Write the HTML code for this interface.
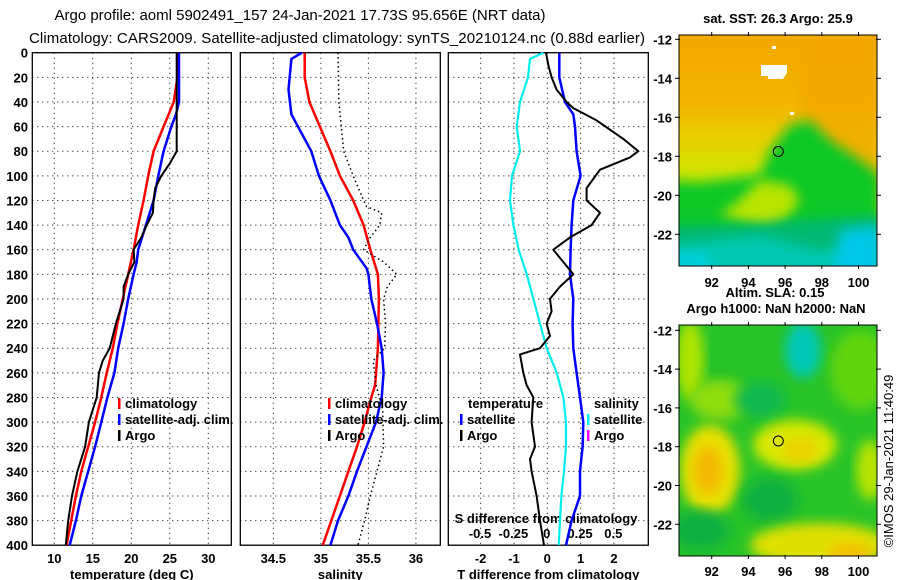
<!DOCTYPE html>
<html><head><meta charset="utf-8"><style>
html,body{margin:0;padding:0;background:#fff;}
svg{display:block;font-family:"Liberation Sans",sans-serif;}
.t{font-weight:bold;font-size:13px;fill:#000;}
</style></head><body>
<svg id="chart" width="900" height="580" viewBox="0 0 900 580" xmlns="http://www.w3.org/2000/svg">
<defs>
<filter id="bl" x="-20%" y="-20%" width="140%" height="140%"><feGaussianBlur stdDeviation="6"/></filter>
<linearGradient id="sstg" x1="0" y1="0" x2="0" y2="1">
<stop offset="0" stop-color="#f2a800"/><stop offset="0.3" stop-color="#f4b400"/><stop offset="0.45" stop-color="#e8d000"/><stop offset="0.6" stop-color="#d0e400"/><stop offset="1" stop-color="#c0e400"/>
</linearGradient>
<clipPath id="c1"><rect x="679" y="35" width="198" height="231"/></clipPath>
<clipPath id="c2"><rect x="679" y="325" width="198" height="231"/></clipPath>
</defs>
<text x="300" y="20" font-size="15" text-anchor="middle" textLength="491">Argo profile: aoml 5902491_157 24-Jan-2021 17.73S 95.656E (NRT data)</text>
<text x="337" y="43" font-size="15" text-anchor="middle" textLength="616">Climatology: CARS2009. Satellite-adjusted climatology: synTS_20210124.nc (0.88d earlier)</text>

<!-- Top map SST -->
<g clip-path="url(#c1)">
<rect x="679" y="35" width="198" height="231" fill="url(#sstg)"/>
<polygon points="800,30 880,30 880,200 840,180 800,110" fill="#f2a800" opacity="0.8" filter="url(#bl)"/>
<polygon points="790,125 810,120 830,140 860,160 880,175 880,300 660,300 660,180 700,182 760,175 770,150" fill="#10c828" filter="url(#bl)"/>
<polygon points="720,215 740,200 760,180 790,185 800,200 790,215 770,230" fill="#b8e400" filter="url(#bl)"/>
<polygon points="660,225 740,225 800,220 880,215 880,300 660,300" fill="#00b870" filter="url(#bl)"/>
<polygon points="660,245 760,235 820,250 880,240 880,300 660,300" fill="#00c8b0" filter="url(#bl)"/>
<polygon points="840,230 880,225 880,300 830,300" fill="#00c8e8" filter="url(#bl)"/>
<polygon points="660,255 700,252 720,270 660,270" fill="#00d0e0" filter="url(#bl)"/>
<polygon points="761,65 787,65 787,73 783,79 768,79 768,76 761,76" fill="#fff"/>
<rect x="772" y="46" width="4" height="3" fill="#fff"/>
<rect x="790" y="112" width="4" height="3" fill="#fff"/>
</g>
<rect x="679" y="35" width="198" height="231" fill="none" stroke="#000" stroke-width="1"/>
<circle cx="778.3" cy="151.5" r="5" fill="none" stroke="#000" stroke-width="1"/>
<text x="778" y="23" class="t" text-anchor="middle">sat. SST: 26.3 Argo: 25.9</text>

<!-- Bottom map SLA -->
<g clip-path="url(#c2)">
<rect x="679" y="325" width="198" height="231" fill="#28c428"/>
<ellipse cx="690" cy="360" rx="14" ry="40" fill="#b0e400" filter="url(#bl)"/>
<ellipse cx="720" cy="400" rx="30" ry="20" fill="#90dc10" filter="url(#bl)"/>
<ellipse cx="860" cy="370" rx="30" ry="40" fill="#60d410" filter="url(#bl)"/>
<ellipse cx="803" cy="350" rx="18" ry="28" fill="#00c8b8" filter="url(#bl)"/>
<ellipse cx="760" cy="400" rx="25" ry="18" fill="#10b850" filter="url(#bl)"/>
<ellipse cx="710" cy="470" rx="30" ry="45" fill="#e8e000" filter="url(#bl)"/>
<ellipse cx="708" cy="470" rx="14" ry="24" fill="#f4b800" filter="url(#bl)"/>
<ellipse cx="795" cy="445" rx="42" ry="25" fill="#d8e800" filter="url(#bl)"/>
<ellipse cx="800" cy="450" rx="18" ry="12" fill="#ecd000" filter="url(#bl)"/>
<ellipse cx="770" cy="500" rx="28" ry="22" fill="#10b040" filter="url(#bl)"/>
<ellipse cx="700" cy="530" rx="30" ry="20" fill="#10b040" filter="url(#bl)"/>
<ellipse cx="820" cy="545" rx="70" ry="22" fill="#e0e000" filter="url(#bl)"/>
<ellipse cx="850" cy="555" rx="22" ry="12" fill="#f4c000" filter="url(#bl)"/>
<ellipse cx="870" cy="470" rx="14" ry="30" fill="#b8e400" filter="url(#bl)"/>
</g>
<rect x="679" y="325" width="198" height="231" fill="none" stroke="#000" stroke-width="1"/>
<circle cx="778.3" cy="441" r="5" fill="none" stroke="#000" stroke-width="1"/>
<text x="775" y="297" class="t" text-anchor="middle">Altim. SLA: 0.15</text>
<text x="776" y="313" class="t" text-anchor="middle">Argo h1000: NaN h2000: NaN</text>
<text transform="translate(893,461) rotate(-90)" font-size="13" text-anchor="middle">©IMOS 29-Jan-2021 11:40:49</text>

<g id="plots"></g>
</svg>
<script>
// ===== data =====
var depthTicks = [0,20,40,60,80,100,120,140,160,180,200,220,240,260,280,300,320,340,360,380,400];
var tempTicks = [10,15,20,25,30];
var salTicks = [34.5,35,35.5,36];
var tdiffTicks = [-2,-1,0,1,2];
var sdiffTicks = [-0.5,-0.25,0,0.25,0.5];
var sdiffTickLabels = ["-0.5","-0.25","0","0.25","0.5"];
var lonTicks = [92,94,96,98,100];
var latTicks = [-12,-14,-16,-18,-20,-22];

var climTDepth = [0,20,40,60,80,100,120,140,160,180,200,220,240,260,280,300,320,340,360,380,400];
var climTemp = [26.1,26.0,25.5,24.2,22.9,22.2,21.6,20.9,20.3,19.6,18.9,18.2,17.6,16.8,16.1,15.3,14.4,13.5,12.8,12.2,11.6];
var satTDepth = [0,20,40,50,60,80,100,120,140,160,170,180,200,220,240,260,280,300,320,340,360,380,400];
var satTemp = [26.2,26.2,26.2,25.8,25.2,24.2,23.5,22.9,21.9,20.9,20.7,20.3,19.6,19.0,18.3,17.8,16.9,16.1,15.3,14.4,13.5,12.8,12.0];
var argoTDepth = [0,80,90,100,110,120,130,140,150,160,170,180,190,200,220,240,250,260,280,300,320,340,360,380,400];
var argoTemp = [25.9,25.9,25.0,23.9,23.1,22.9,22.8,22.0,21.3,20.3,20.4,19.6,19.0,19.0,18.0,17.2,16.3,15.8,15.5,14.5,14.0,13.0,12.3,11.8,11.5];

var climSDepth = [0,20,40,60,80,100,120,140,160,180,200,240,250,270,280,300,320,340,360,380,400];
var climSal = [34.83,34.83,34.88,34.99,35.10,35.20,35.34,35.45,35.52,35.60,35.61,35.60,35.59,35.57,35.53,35.46,35.38,35.29,35.20,35.11,35.02];
var satSDepth = [0,5,30,50,60,80,100,120,140,150,160,175,180,200,220,240,260,280,300,320,340,360,380,400];
var satSal = [34.80,34.69,34.66,34.69,34.76,34.90,34.98,35.10,35.20,35.29,35.34,35.48,35.50,35.53,35.59,35.64,35.66,35.64,35.58,35.48,35.38,35.29,35.18,35.10];
var argoSDepth = [0,40,80,100,120,125,130,140,150,160,170,180,190,200,220,240,250,270,290,320,340,360,380,400];
var argoSal = [35.18,35.19,35.24,35.34,35.45,35.48,35.64,35.62,35.52,35.45,35.66,35.80,35.70,35.66,35.68,35.67,35.55,35.58,35.65,35.66,35.59,35.52,35.46,35.39];

var satDTDepth = [0,20,40,50,60,80,100,120,140,160,180,200,220,240,260,280,300,320,340,360,380,400];
var satDT = [0.36,0.36,0.53,0.78,0.83,0.88,1.0,0.78,0.73,0.70,0.68,0.78,0.76,0.78,0.88,0.98,1.08,1.06,0.98,0.98,0.73,0.56];
var argoDTDepth = [0,10,20,30,40,45,55,70,80,85,95,110,120,130,140,150,160,170,180,190,200,210,220,230,240,245,260,270,280,300,320,330,340,360,380,400];
var argoDT = [-0.04,0.03,0.13,0.28,0.58,0.78,1.48,2.28,2.73,2.48,1.58,1.18,1.18,1.58,1.33,0.68,0.18,0.48,0.78,0.38,0.08,0.13,-0.02,0.08,-0.22,-0.82,-0.72,-0.62,-0.42,-0.47,-0.37,-0.52,-0.47,-0.32,-0.22,-0.10];
var satDSDepth = [0,5,20,40,60,80,100,120,140,160,180,200,220,240,260,280,300,320,340,360,380,400];
var satDS = [-0.025,-0.125,-0.14,-0.2,-0.225,-0.2,-0.26,-0.275,-0.25,-0.21,-0.15,-0.1,-0.05,0,0.075,0.125,0.145,0.145,0.13,0.11,0.10,0.09];

// ===== scales =====
function yD(d){ return 52.7 + d*1.23125; }
function xT(t){ return 54.3 + (t-10)*7.7; }
function xS(s){ return 273.3 + (s-34.5)*95.1; }
function xDT(t){ return 547.3 + t*33.33; }
function xDS(s){ return 546.7 + s*133.3; }
function lonX(l){ return 711.7 + (l-92)*18.35; }
function latY1(l){ return 39.3 + (-12-l)*19.5; }
function latY2(l){ return 330.3 + (-12-l)*19.4; }

var NS = "http://www.w3.org/2000/svg";
var root = document.getElementById('plots');
function mk(tag, attrs, parent){
  var e = document.createElementNS(NS, tag);
  for (var k in attrs) e.setAttribute(k, attrs[k]);
  (parent||root).appendChild(e);
  return e;
}
function txt(x,y,s,anchor,parent,cls){
  var e = mk('text',{x:x,y:y,'text-anchor':anchor||'middle','class':cls||'t'},parent);
  e.textContent = s;
  return e;
}

function panel(name, x0, x1, ticks, sx, labels, title){
  var g = mk('g',{});
  
  
  depthTicks.forEach(function(d){
    var l = mk('line',{x1:x0,x2:x1,y1:yD(d),y2:yD(d),stroke:'#000','stroke-width':1,'stroke-dasharray':'1,4'},g);
    
    
  });
  ticks.forEach(function(t,i){
    var X = sx(t);
    var l = mk('line',{x1:X,x2:X,y1:yD(0),y2:yD(400),stroke:'#000','stroke-width':1,'stroke-dasharray':'1,4'},g);
    
    
    var tl = txt(X, 563, labels[i], 'middle', g);
    
    
  });
  var r = mk('rect',{x:x0,y:yD(0),width:x1-x0,height:yD(400)-yD(0),fill:'none',stroke:'#000','stroke-width':1.3},g);
  
  
  var at = txt((x0+x1)/2, 579, title, 'middle', g);
  
  
  return g;
}
function series(name, depths, vals, sx, color, w, dash){
  var pts = depths.map(function(d,i){ return sx(vals[i]).toFixed(1)+','+yD(d).toFixed(1); }).join(' ');
  var a = {points:pts, fill:'none', stroke:color, 'stroke-width':w, 'stroke-linejoin':'round'};
  if (dash) a['stroke-dasharray'] = dash;
  var p = mk('polyline', a);
  
  
}
function legend(name, x, y, color, label){
  var m = mk('rect',{x:x-1,y:y-10,width:2.5,height:11,fill:color});
  
  
  var t = txt(x+6, y, label, 'start');
  
  
}

panel('temperature', 32.3, 231.3, tempTicks, xT, tempTicks.map(String), 'temperature (deg C)');
panel('salinity', 240.3, 440.3, salTicks, xS, salTicks.map(String), 'salinity');
panel('difference', 448.3, 648.3, tdiffTicks, xDT, tdiffTicks.map(String), 'T difference from climatology');

depthTicks.forEach(function(d){
  var t = txt(28, yD(d)+5, String(d), 'end');
  
  
});
sdiffTicks.forEach(function(s,i){
  var t = txt(xDS(s), 538, sdiffTickLabels[i], 'middle');
  
  
});
var st = txt(546, 523, 'S difference from climatology', 'middle');



// maps ticks
lonTicks.forEach(function(l){
  var X = lonX(l);
  [[35,266,287],[325,556,576]].forEach(function(m,k){
    var a = mk('line',{x1:X,x2:X,y1:m[0]-3,y2:m[0]+1,stroke:'#000'});
    
    
    var b = mk('line',{x1:X,x2:X,y1:m[1]-1,y2:m[1]+3,stroke:'#000'});
    
    
    var t = txt(X, m[2], String(l), 'middle');
    
    
  });
});
latTicks.forEach(function(l){
  [latY1(l), latY2(l)].forEach(function(Y){
    var a = mk('line',{x1:876,x2:881,y1:Y,y2:Y,stroke:'#000'});
    
    
    var b = mk('line',{x1:675,x2:680,y1:Y,y2:Y,stroke:'#000'});
    
    
    var t = txt(672, Y+5, String(l), 'end');
    
    
  });
});

// series
series('temp-climatology-line', climTDepth, climTemp, xT, '#ff0000', 2.5);
series('temp-satellite-line', satTDepth, satTemp, xT, '#0000ff', 2.5);
series('temp-argo-line', argoTDepth, argoTemp, xT, '#000000', 2);
series('sal-climatology-line', climSDepth, climSal, xS, '#ff0000', 2.5);
series('sal-satellite-line', satSDepth, satSal, xS, '#0000ff', 2.5);
series('sal-argo-line', argoSDepth, argoSal, xS, '#000000', 1.5, '1.5,3');
series('sdiff-satellite-line', satDSDepth, satDS, xDS, '#00eeee', 2.2);
series('tdiff-satellite-line', satDTDepth, satDT, xDT, '#0000ff', 2.5);
series('tdiff-argo-line', argoDTDepth, argoDT, xDT, '#000000', 2);

// legends
legend('legend-climatology', 119, 408, '#ff0000', 'climatology');
legend('legend-satellite-adj', 119, 424, '#0000ff', 'satellite-adj. clim.');
legend('legend-argo', 119, 440, '#000000', 'Argo');
legend('legend-sal-climatology', 329, 408, '#ff0000', 'climatology');
legend('legend-sal-satellite-adj', 329, 424, '#0000ff', 'satellite-adj. clim.');
legend('legend-sal-argo', 329, 440, '#000000', 'Argo');
var lt = txt(468, 408, 'temperature', 'start');


var ls = txt(594, 408, 'salinity', 'start');


legend('legend-tdiff-satellite', 461, 424, '#0000ff', 'satellite');
legend('legend-tdiff-argo', 461, 440, '#000000', 'Argo');
legend('legend-sdiff-satellite', 588, 424, '#00eeee', 'satellite');
legend('legend-sdiff-argo', 588, 440, '#ff00ff', 'Argo');
</script>
</body></html>
